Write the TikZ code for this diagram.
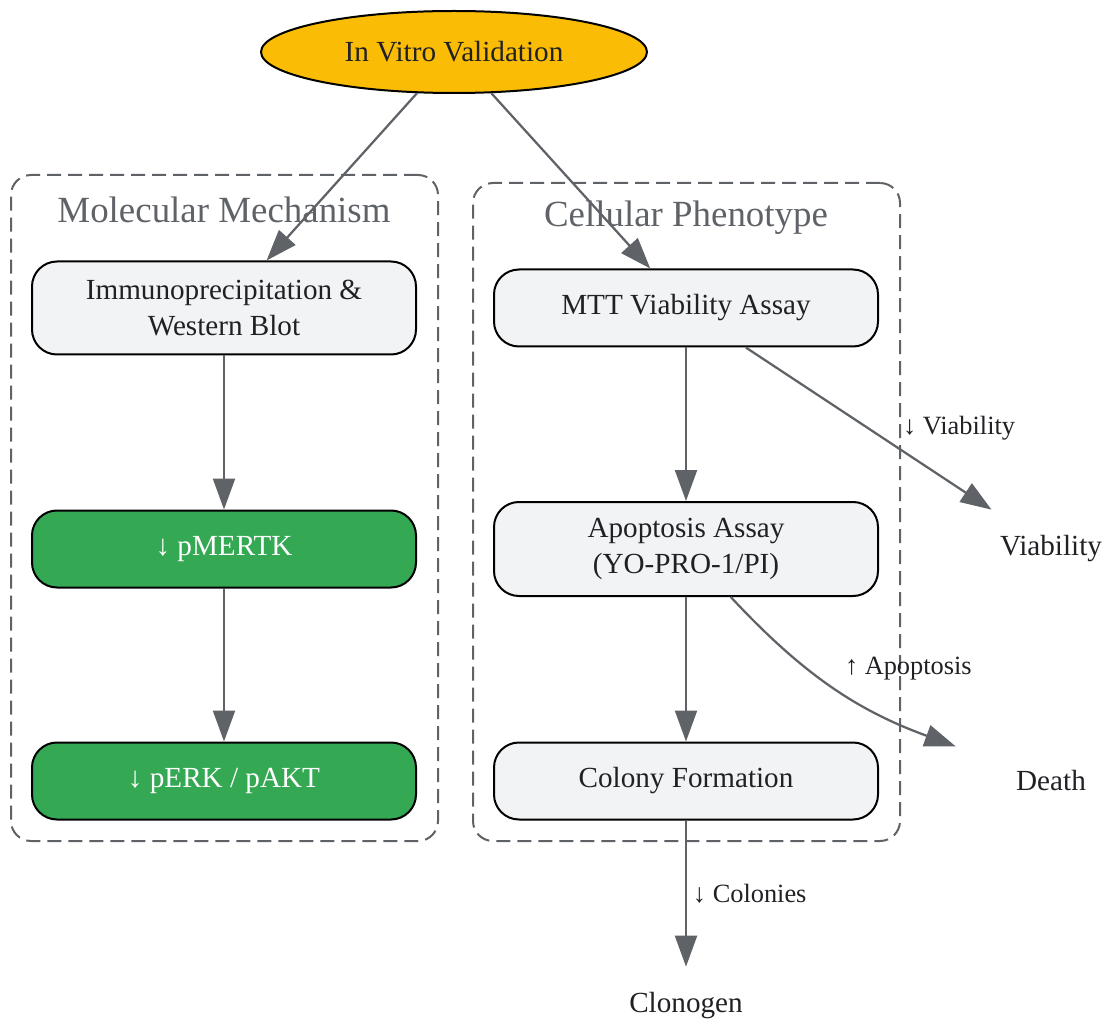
\documentclass[tikz,border=0pt]{standalone}
\usepackage{fontspec}
\setmainfont{Liberation Serif}
\usetikzlibrary{arrows.meta,shapes.geometric}

\definecolor{edgegray}{HTML}{5F6368}
\definecolor{boxfill}{HTML}{F1F3F4}
\definecolor{goldfill}{HTML}{FBBC05}
\definecolor{greenfill}{HTML}{34A853}
\definecolor{inktext}{HTML}{202124}

\tikzset{
  stepbox/.style={draw=black, line width=0.04cm, rounded corners=0.5cm, fill=boxfill,
    minimum width=7.68cm, minimum height=1.54cm, align=center,
    font=\fontsize{16.6}{20.5}\selectfont, text=inktext},
  hitbox/.style={stepbox, fill=greenfill, text=white},
  plainbox/.style={minimum width=3.8cm, minimum height=1.56cm,
    font=\fontsize{16.6}{20.5}\selectfont, text=inktext},
  clusterbox/.style={draw=edgegray, dash pattern=on 0.28cm off 0.14cm, line width=0.04cm,
    rounded corners=0.4cm, minimum width=8.54cm},
  clustertitle/.style={text=edgegray, font=\fontsize{21}{25}\selectfont},
  flow/.style={draw=edgegray, line width=0.045cm, -{Triangle[length=0.62cm, width=0.44cm]}},
  flowlabel/.style={font=\fontsize{15}{18}\selectfont, text=inktext}
}

\begin{document}
\begin{tikzpicture}
  \useasboundingbox (0,0) rectangle (22.08,20.48);

  % clusters
  \node[clusterbox, minimum height=13.32cm] (molbox) at (4.49,10.32) {};
  \node[clusterbox, minimum height=13.16cm] (cellbox) at (13.73,10.24) {};
  \node[clustertitle] (moltitle) at (4.48,16.28) {Molecular Mechanism};
  \node[clustertitle] (celltitle) at (13.72,16.12) {Cellular Phenotype};

  % top
  \node[ellipse, draw=black, line width=0.04cm, fill=goldfill, minimum width=7.72cm,
    minimum height=1.64cm, inner sep=0pt, font=\fontsize{16.6}{20.5}\selectfont, text=inktext]
    (vitro) at (9.08,19.44) {In Vitro Validation};

  % molecular mechanism
  \node[stepbox, minimum height=1.86cm] (ip) at (4.48,14.32) {Immunoprecipitation \&\\Western Blot};
  \node[hitbox] (pmertk) at (4.48,9.5) {↓ pMERTK};
  \node[hitbox] (perk) at (4.48,4.86) {↓ pERK / pAKT};

  % cellular phenotype
  \node[stepbox] (mtt) at (13.72,14.32) {MTT Viability Assay};
  \node[stepbox, minimum height=1.88cm] (apo) at (13.72,9.5) {Apoptosis Assay\\(YO-PRO-1/PI)};
  \node[stepbox] (colony) at (13.72,4.86) {Colony Formation};

  % outcomes
  \node[plainbox] (viab) at (21.02,9.5) {Viability};
  \node[plainbox] (death) at (21.02,4.86) {Death};
  \node[plainbox] (clono) at (13.72,0.36) {Clonogen};

  \draw[flow] (vitro) -- (ip);
  \draw[flow] (vitro) -- (mtt);
  \draw[flow] (ip) -- (pmertk);
  \draw[flow] (pmertk) -- (perk);
  \draw[flow] (mtt) -- (apo);
  \draw[flow] (apo) -- (colony);
  \draw[flow] (mtt) -- node[flowlabel, pos=0.5, anchor=west, xshift=0.55cm] {↓ Viability} (viab);
  \draw[flow] (apo) to[out=-47, in=160]
    node[flowlabel, pos=0.5, anchor=south west, xshift=0.1cm] {↑ Apoptosis} (death);
  \draw[flow] (colony) -- node[flowlabel, anchor=west] {↓ Colonies} (clono);
\end{tikzpicture}
\end{document}
